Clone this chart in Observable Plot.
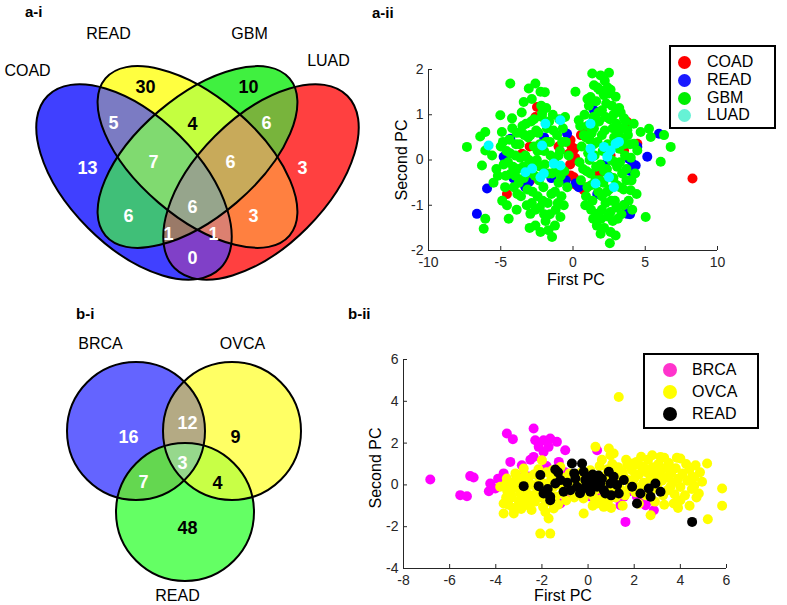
<!DOCTYPE html>
<html>
<head>
<meta charset="utf-8">
<script src="https://cdn.jsdelivr.net/npm/d3@7"></script>
<script src="https://cdn.jsdelivr.net/npm/@observablehq/plot@0.6"></script>
<style>
  html, body { margin: 0; padding: 0; background: #fff; }
  body { font-family: "Liberation Sans", Arial, Helvetica, sans-serif; }
  #fig { position: relative; width: 787px; height: 605px; overflow: hidden; background: #fff; }
  .lbl { position: absolute; white-space: nowrap; line-height: 1; color: #000; }
  .legend { position: absolute; border: 2px solid #000; background: #fff; box-sizing: border-box; }
  .legend .dot { position: absolute; border-radius: 50%; }
  .legend .txt { position: absolute; font-size: 16px; line-height: 1; transform: translateY(-50%); }
</style>
</head>
<body>
<div id="fig"></div>
<script>
// ---------------- DATA ----------------
// Panel a-i: 4-set Venn (C=COAD, R=READ, G=GBM, L=LUAD)
const vennASets = ["COAD", "READ", "GBM", "LUAD"];
const vennARegions = ["C", "R", "G", "L", "CR", "RG", "GL", "CG", "RL", "CL", "CRG", "RGL", "CRGL", "CGL", "CRL"];
const vennACounts = [13, 30, 10, 3, 5, 4, 6, 6, 3, 0, 7, 6, 6, 1, 1];

// Panel b-i: 3-set Venn (B=BRCA, O=OVCA, R=READ)
const vennBSets = ["BRCA", "OVCA", "READ"];
const vennBRegions = ["B", "O", "R", "BO", "BR", "OR", "BOR"];
const vennBCounts = [16, 9, 48, 12, 7, 4, 3];

// Panel a-ii: PCA scatter [First PC, Second PC]
const aCOAD = [[-2.49,1.17],[-3.53,0.14],[-2.95,-0.45],[-4.57,-0.75],[-0.29,0.14],[-0.06,0.07],[0.06,-0.01],[-0.17,-0.34],[0.06,-0.38],[0.75,0.58],[0.55,0.55],[0.98,-0.60],[0.75,-0.67],[3.76,0.84],[8.27,-0.41],[4.45,0.36],[3.53,0.21],[-0.17,0.44],[0.1,0.25],[-0.2,-0.1],[-2.6,0.95],[-1.0,0.3],[1.8,-0.3],[2.6,0.1],[-3.0,0.3],[0.2,-0.55],[-0.1,0.3],[0.15,0.05]];
const aREAD = [[-6.65,-1.19],[-5.95,-0.63],[-4.34,0.47],[-4.80,0.07],[-4.11,-0.41],[-3.06,-0.49],[-0.41,0.58],[0.17,-0.52],[0.40,-0.60],[1.45,1.10],[1.68,-0.75],[3.76,-1.19],[3.53,-1.00],[4.11,-0.08],[4.34,-0.12],[5.14,0.07],[5.95,0.58],[4.45,0.29],[3.87,0.03],[-0.5,-0.45],[-2.0,0.5],[-1.5,-0.4],[2.2,-0.1],[4.0,-0.25],[-3.3,-0.6],[3.95,-1.2],[0.3,-0.55]];
const aGBM = [[-7.34,0.29],[-6.42,0.52],[-6.07,0.62],[-6.07,0.21],[-6.30,-0.12],[-6.07,-1.30],[-6.18,-1.52],[-5.03,0.99],[-4.92,0.62],[-4.34,1.69],[-4.22,0.92],[-4.45,-1.30],[-4.57,-1.00],[-3.41,1.28],[-3.06,1.58],[-2.60,1.69],[-2.25,1.51],[-2.14,1.03],[-1.45,-1.70],[-2.25,-1.59],[-2.95,-1.19],[-0.87,-1.26],[-0.64,-1.00],
  [-5.6,0.1],[-5.3,-0.2],[-5.0,0.3],[-5.2,-0.35],[-4.8,-0.1],[-4.6,0.2],[-4.4,0.45],[-4.3,-0.3],[-4.1,-0.6],[-4.0,0.1],[-3.9,0.6],[-3.8,-0.2],[-3.7,0.35],[-3.6,-0.8],[-3.5,0.75],[-3.4,-0.4],[-3.3,0.1],[-3.2,-1.0],[-3.1,0.5],[-3.0,-0.2],[-2.9,0.85],[-2.8,-0.7],[-2.7,0.3],[-2.6,-1.1],[-2.5,0.0],[-2.4,0.6],[-2.35,-0.45],[-2.2,1.2],[-2.1,-0.9],[-2.0,0.2],[-1.9,-1.35],[-1.8,0.7],[-1.7,-0.3],[-1.6,0.4],[-1.5,-0.75],[-1.4,1.0],[-1.3,0.0],[-1.2,-1.1],[-1.1,0.55],[-1.0,-0.5],[-0.9,0.2],[-0.8,-0.8],[-0.7,0.7],[-0.6,-0.25],[-0.5,0.4],[-3.55,1.05],[-2.85,1.35],[-2.6,-1.45],[-3.0,-1.5],[-1.7,-1.55],[-1.95,1.5],[-4.7,-0.6],[-5.5,-0.5],[-4.9,-0.9],[-3.9,-1.1],[-2.3,0.35],[-1.15,-0.2],[-0.95,0.9],[-0.4,-0.6],[-3.35,0.55],[-2.75,-0.05],[-1.55,0.1],[-2.05,-0.6],[-3.75,-0.5],[-4.2,0.7],[-1.25,-1.45],[-0.3,0.1],[-0.55,0.95],[-2.45,-0.8],[-3.15,-0.65],[-1.85,1.15],[-4.5,-0.05],
  [-4.85,0.4],[-4.65,-0.35],[-4.35,0.15],[-4.15,-0.15],[-3.95,0.35],[-3.85,-0.75],[-3.65,0.05],[-3.45,-0.15],[-3.25,0.8],[-3.2,-0.3],[-3.05,0.0],[-2.95,0.55],[-2.85,-0.95],[-2.65,-0.35],[-2.55,0.65],[-2.45,0.2],[-2.3,-1.05],[-2.25,-0.15],[-2.15,0.95],[-1.95,-0.1],[-1.85,0.4],[-1.75,-0.95],[-1.65,0.85],[-1.45,-0.3],[-1.35,0.65],[-1.25,-0.7],[-1.05,-0.95],[-1.0,0.1],[-0.85,-0.35],[-0.75,0.4],[-3.6,0.6],[-4.0,-0.35],[-2.0,-1.2],[-1.6,-1.2],[-2.7,0.9],
  [0.17,1.51],[0.40,0.88],[1.33,1.91],[1.91,1.87],[2.49,1.93],[1.45,1.65],[1.21,1.39],[2.14,1.43],[2.49,1.47],[1.68,-1.19],[1.91,-1.63],[2.60,-1.59],[2.95,-1.67],[2.55,-1.84],[3.53,0.92],[3.76,0.66],[4.22,0.36],[4.45,0.21],[4.68,0.62],[5.26,0.69],[5.38,0.51],[6.07,-0.04],[6.30,0.55],[6.76,0.29],[5.03,-1.26],[3.99,-0.67],
  [0.6,0.3],[0.7,-0.2],[0.8,1.0],[0.9,0.5],[1.0,-0.6],[1.05,0.15],[1.1,1.2],[1.2,-0.3],[1.3,0.6],[1.35,-0.9],[1.4,0.95],[1.5,0.1],[1.55,-0.45],[1.6,1.3],[1.7,0.4],[1.75,-0.7],[1.8,0.85],[1.9,-0.1],[1.95,-1.3],[2.0,1.1],[2.05,0.2],[2.1,-0.5],[2.2,0.65],[2.25,-0.95],[2.3,1.25],[2.35,-0.2],[2.4,0.35],[2.5,-0.65],[2.55,0.9],[2.6,-1.15],[2.65,0.0],[2.7,1.2],[2.8,-0.4],[2.85,0.5],[2.9,-0.9],[3.0,0.8],[3.05,-0.15],[3.1,-1.3],[3.2,0.25],[3.25,-0.6],[3.3,1.05],[3.4,-0.3],[3.45,0.45],[3.5,-1.0],[3.6,0.1],[3.7,-0.45],[3.8,0.55],[3.85,-0.9],[4.0,0.05],[4.1,-1.1],[4.3,-0.3],[4.2,0.8],[1.0,0.75],[1.25,-1.1],[0.55,-0.45],[0.85,-1.0],[1.65,-1.45],[2.15,-1.5],[2.75,-1.35],[3.35,-1.2],[1.85,1.55],[2.4,1.6],[2.95,1.4],[0.5,0.75],[0.45,-0.05],[3.65,0.85],[4.4,-0.75],[1.45,0.35],[2.45,-0.35],[3.15,0.6],[2.0,-0.8],[1.15,0.45],
  [0.75,0.55],[0.95,-0.25],[1.15,0.0],[1.3,-0.55],[1.45,0.7],[1.6,-0.15],[1.75,1.05],[1.85,-0.45],[2.0,0.55],[2.15,-0.25],[2.25,0.95],[2.35,-0.7],[2.5,0.2],[2.65,-0.9],[2.75,0.7],[2.9,-0.05],[3.0,-0.55],[3.1,0.3],[3.25,-0.05],[3.35,0.7],[3.5,-0.65],[3.55,0.35],[3.7,-0.2],[3.95,0.35],[4.05,-0.45],[1.4,-1.3],[2.0,-1.1],[2.4,-1.25],[3.0,-1.05],[1.7,1.6],[2.2,1.75],[2.6,1.55],[1.0,1.35],[0.9,-0.8],[2.8,1.0],[3.2,1.15]];
const aLUAD = [[-5.84,0.32],[-1.91,0.80],[-0.87,0.88],[-2.14,0.32],[-3.29,-0.27],[-2.83,-0.19],[-2.25,-0.38],[-2.02,-0.30],[-1.33,-0.08],[-0.87,-0.12],[1.21,0.80],[1.21,0.25],[1.33,0.07],[2.14,0.29],[2.37,0.07],[2.60,0.21],[2.95,0.36],[3.18,0.40],[2.49,-0.38],[2.83,-0.60],[1.56,-0.52]];

// Panel b-ii: PCA scatter [First PC, Second PC]
const bBRCA = [[-6.84,0.26],[-5.54,-0.49],[-5.25,-0.54],[-5.11,0.42],[-4.96,0.35],[-4.24,0.07],[-4.02,-0.17],[-3.52,2.46],[-3.26,2.19],[-3.37,1.10],[-2.87,0.94],[-2.36,2.70],[-2.36,1.34],[-2.29,2.14],[-1.93,2.14],[-1.64,2.22],[-1.71,1.82],[-2.14,1.82],[-1.93,1.58],[-1.35,2.06],[-0.99,1.66],[-1.27,1.10],[0.39,1.66],[1.62,-1.77],[2.85,-1.21],[1.40,-0.97],[2.49,-0.97],[-1.20,-0.89],[-2.21,0.47],[-3.66,0.55],[-3.9,0.3],[-0.62,-0.09],[0.39,0.23],[0.97,-0.09],[1.55,-0.57],[2.12,-0.57],[-2.6,0.4],[-3.1,0.45],[-1.8,0.9],[-2.5,1.2],[-1.5,0.3],[-0.9,-0.6],[-0.3,-0.3],[0.6,-0.4],[1.2,-0.6],[1.8,-0.3],[2.3,-0.7],[-1.0,0.6],[-4.3,-0.3],[-3.7,0.05],[-2.0,-0.3],[-0.5,0.5],[2.7,-0.75],[0.1,-0.55]];
const bOVCA = [[1.33,4.21],[-2.07,-2.33],[-1.64,-2.33],[5.81,-0.17],[5.81,-1.00],[5.19,-1.64],[5.16,1.02],[4.66,0.94],[4.51,0.39],[4.0,1.26],[3.57,-0.09],[3.71,-0.89],[4.0,-0.73],[4.80,-0.41],[4.94,0.15],[3.14,1.34],[2.78,1.42],[2.41,0.86],[1.84,1.02],[0.97,1.42],[1.11,1.50],[0.90,1.74],[0.32,1.82],[1.55,0.39],[2.71,-1.45],[0.68,-1.05],[0.39,-0.89],[-0.19,-1.37],[-1.49,-1.13],[-1.71,-1.61],[-2.65,-0.89],[-3.66,-1.37],[-3.22,-1.37],[-3.66,-0.89],[-3.81,-0.09],[-3.52,0.31],[-2.79,0.78],[-2.00,1.18],[-1.20,0.86],
  [-3.5,-0.3],[-3.4,0.1],[-3.3,-0.6],[-3.2,-0.1],[-3.1,0.3],[-3.0,-0.8],[-2.95,-0.4],[-2.9,0.1],[-2.8,-0.6],[-2.7,-0.2],[-2.6,0.25],[-2.55,-1.0],[-2.5,-0.5],[-2.4,0.0],[-2.35,0.5],[-2.3,-0.8],[-2.2,-0.25],[-2.1,0.3],[-2.0,-0.6],[-1.95,-1.05],[-1.9,0.05],[-1.8,0.6],[-1.75,-0.35],[-1.7,-0.8],[-1.6,0.25],[-1.5,-0.1],[-1.4,-0.55],[-1.35,0.45],[-1.3,-0.95],[-1.2,0.0],[-1.1,-0.4],[-1.0,0.35],[-0.95,-0.75],[-0.9,0.05],[-0.8,0.55],[-0.75,-0.3],[-0.6,-0.6],[-0.5,0.25],[-0.4,-0.2],[-0.3,0.6],[-3.45,-0.95],[-3.15,0.55],[-2.75,0.45],[-3.55,0.05],[-2.45,-1.2],[-1.85,-1.3],[-2.15,0.75],[-1.55,0.7],
  [-3.35,-0.45],[-3.05,-0.15],[-2.85,-0.25],[-2.65,0.0],[-2.45,-0.65],[-2.25,-0.45],[-2.05,0.0],[-1.85,-0.55],[-3.55,-0.6],[-3.25,-1.1],[-2.9,-1.15],[-1.6,-0.1],[-1.25,0.35],[-0.6,0.0],[-0.2,0.1],[0.3,-0.7],[0.9,-0.7],[1.4,0.3],[1.9,0.1],[2.4,0.7],[3.0,0.6],[3.55,0.7],[4.25,1.0],[4.6,-0.05],[3.3,1.3],[2.0,0.95],
  [-0.2,-0.65],[-0.1,0.4],[0.0,-0.3],[0.1,0.7],[0.2,-0.5],[0.3,0.2],[0.4,-0.2],[0.5,0.9],[0.55,-0.7],[0.6,0.4],[0.7,0.0],[0.8,-0.45],[0.85,0.75],[0.9,0.2],[1.0,-0.3],[1.05,1.0],[1.1,0.5],[1.2,-0.6],[1.25,0.1],[1.3,0.85],[1.4,-0.2],[1.5,0.6],[1.6,-0.5],[1.65,1.2],[1.7,0.25],[1.8,-0.15],[1.9,0.7],[2.0,0.3],[2.05,-0.35],[2.1,1.1],[2.2,0.5],[2.25,-0.1],[2.3,0.9],[2.4,0.1],[2.5,-0.5],[2.55,0.6],[2.6,1.2],[2.7,0.3],[2.75,-0.25],[2.8,0.85],[2.9,0.45],[3.0,-0.1],[3.05,1.0],[3.1,0.55],[3.2,0.2],[3.25,-0.5],[3.3,0.8],[3.4,0.35],[3.45,-0.25],[3.5,1.05],[3.6,0.55],[3.65,0.1],[3.75,-0.45],[3.8,0.8],[3.9,0.3],[4.0,-0.1],[4.1,0.55],[4.2,-0.5],[4.3,0.2],[4.4,0.75],[4.5,-0.2],[4.6,0.35],[4.7,-0.6],[4.85,0.6],[4.4,-1.0],[3.9,-1.1],[3.3,-0.95],[2.9,-0.8],[2.2,-0.9],[1.5,-1.0],[1.0,-1.1],[0.2,-1.0],[2.3,1.35],[1.7,0.95],[0.6,1.2],[3.85,1.3]];
const bREAD = [[-2.79,-0.06],[-2.14,-0.06],[-2.07,0.47],[-1.93,-0.41],[-1.64,-0.57],[-1.64,-0.73],[-1.42,0.74],[-1.42,0.07],[-1.20,0.23],[-1.06,-0.33],[-0.77,-0.25],[-0.70,1.02],[-0.55,0.31],[-0.48,-0.09],[-0.26,1.02],[-0.19,0.63],[-0.12,0.23],[-0.05,0.39],[0.03,-0.09],[0.10,-0.33],[0.25,0.23],[0.39,-0.09],[0.53,0.07],[0.68,-0.25],[0.75,-0.41],[0.90,0.63],[0.97,0.07],[1.11,0.39],[1.26,-0.01],[1.33,-0.41],[1.55,0.23],[1.91,-0.09],[2.12,-0.89],[2.27,-0.41],[2.63,-0.17],[2.71,-0.57],[2.92,0.07],[3.14,-0.33],[4.51,-1.77],[-1.3,0.6],[-0.9,0.1],[-0.35,-0.4],[0.0,0.15],[0.2,0.5],[0.6,0.3],[-0.6,0.55],[1.0,-0.5],[-1.75,-0.2],[-0.15,-0.15],[0.45,0.45]];

// Tick labels
const aXTicks = [-10, -5, 0, 5, 10];
const aYTicks = [-2, -1, 0, 1, 2];
const bXTicks = [-8, -6, -4, -2, 0, 2, 4, 6];
const bYTicks = [-4, -2, 0, 2, 4, 6];

// ---------------- LAYOUT & STYLE ----------------
const FONT = '"Liberation Sans", Arial, Helvetica, sans-serif';
// ellipse geometry (page pixel coordinates) for a-i
const vennAShapes = [
  {id: "C", cx: 134, cy: 182, a: 122, b: 65, angle: 45},
  {id: "R", cx: 197.5, cy: 157, a: 121, b: 60, angle: 40.5},
  {id: "G", cx: 197.5, cy: 157, a: 121, b: 60, angle: -40.5},
  {id: "L", cx: 261, cy: 182, a: 122, b: 65, angle: -45}
];
const vennAColors = ["#4040ff", "#ffff40", "#40f040", "#ff4040", "#7b7bc3", "#c4ff40", "#78b43c", "#40bf78", "#ff8040", "#8040c8", "#80da70", "#c8aa5a", "#96a58c", "#9a7a68", "#dc8070"];
const vennALabelPos = [[87,168],[145,87],[248,87],[302,168],[113,123],[192,124],[266,123],[128,216],[253,216],[192,258],[153,162],[230,162],[192,207],[168,234],[213,234]];
const vennALabelInk = ["#fff","#000","#000","#fff","#fff","#000","#fff","#fff","#fff","#fff","#fff","#fff","#fff","#fff","#fff"];
const vennASetPos = [[27,70],[108,33],[249,33],[328,60]];

const vennBShapes = [
  {id: "B", cx: 136, cy: 431, a: 69, b: 69, angle: 0},
  {id: "O", cx: 232, cy: 431, a: 69, b: 69, angle: 0},
  {id: "R", cx: 185, cy: 512, a: 69, b: 69, angle: 0}
];
const vennBColors = ["#6464ff", "#ffff64", "#64ff64", "#b4aa84", "#64d750", "#c8ff46", "#96d88c"];
const vennBLabelPos = [[128,437],[235,437],[187,528],[187,423],[143,482],[217,483],[182,463]];
const vennBLabelInk = ["#fff","#000","#000","#fff","#fff","#000","#fff"];
const vennBSetPos = [[100,343],[242,343],[177,595]];

const fig = document.getElementById("fig");

function addNode(node, left, top) {
  const d = document.createElement("div");
  d.style.cssText = `position:absolute;left:${left}px;top:${top}px;width:${node.getAttribute("width")}px;height:${node.getAttribute("height")}px;`;
  d.appendChild(node);
  fig.appendChild(d);
}
function addLabel(text, x, y, {size = 16, weight = "normal", anchor = "middle", rotate = 0} = {}) {
  const d = document.createElement("div");
  d.className = "lbl";
  d.textContent = text;
  const tx = anchor === "middle" ? "-50%" : anchor === "end" ? "-100%" : "0";
  d.style.cssText += `left:${x}px;top:${y}px;font-size:${size}px;font-weight:${weight};transform:translate(${tx},-50%);`;
  if (rotate) d.style.transform = `translate(-50%,-50%) rotate(${rotate}deg)`;
  fig.appendChild(d);
}
function addLegend(box, items, rows) {
  const d = document.createElement("div");
  d.className = "legend";
  d.style.cssText += `left:${box.left}px;top:${box.top}px;width:${box.width}px;height:${box.height}px;`;
  items.forEach((it, i) => {
    const dot = document.createElement("div");
    dot.className = "dot";
    const r = box.r;
    dot.style.cssText += `left:${box.dotX - box.left - r}px;top:${rows[i] - box.top - r}px;width:${2*r}px;height:${2*r}px;background:${it.color};`;
    d.appendChild(dot);
    const t = document.createElement("div");
    t.className = "txt";
    t.textContent = it.name;
    t.style.left = (box.textX - box.left) + "px";
    t.style.top = (rows[i] - box.top) + "px";
    d.appendChild(t);
  });
  fig.appendChild(d);
}

// Venn render mark (uses the plot's x/y scales)
function vennMark(prefix, shapes, regionKeys, colors) {
  return (index, scales) => {
    const {x, y} = scales;
    const g = d3.create("svg:g");
    const defs = g.append("defs");
    const geom = shapes.map(s => {
      const cx = x(s.cx), cy = y(s.cy);
      return {id: s.id, cx, cy, rx: Math.abs(x(s.cx + s.a) - cx), ry: Math.abs(y(s.cy + s.b) - cy), rot: s.angle};
    });
    const put = (sel, e) => sel.append("ellipse")
      .attr("cx", e.cx).attr("cy", e.cy).attr("rx", e.rx).attr("ry", e.ry)
      .attr("transform", `rotate(${e.rot} ${e.cx} ${e.cy})`);
    geom.forEach(e => put(defs.append("clipPath").attr("id", prefix + e.id), e));
    const order = regionKeys.map((k, i) => i).sort((a, b) => regionKeys[a].length - regionKeys[b].length);
    for (const i of order) {
      const keys = regionKeys[i].split("");
      let sel = g;
      for (const k of keys.slice(1)) sel = sel.append("g").attr("clip-path", `url(#${prefix}${k})`);
      put(sel, geom.find(d => d.id === keys[0])).attr("fill", colors[i]);
    }
    geom.forEach(e => put(g, e).attr("fill", "none").attr("stroke", "#000").attr("stroke-width", 2));
    return g.node();
  };
}

function vennPlot(prefix, top, height, shapes, regionKeys, colors, counts, labelPos, ink, sets, setPos) {
  const nums = counts.map((n, i) => ({n, x: labelPos[i][0], y: labelPos[i][1], ink: ink[i]}));
  const names = sets.map((s, i) => ({s, x: setPos[i][0], y: setPos[i][1]}));
  return Plot.plot({
    width: 370, height, margin: 0,
    style: {fontFamily: FONT, background: "transparent", overflow: "visible"},
    x: {domain: [0, 370], axis: null},
    y: {domain: [top, top + height], reverse: true, axis: null},
    marks: [
      vennMark(prefix, shapes, regionKeys, colors),
      Plot.text(nums, {x: "x", y: "y", text: d => String(d.n), fill: d => d.ink, fontSize: 18, fontWeight: "bold"}),
      Plot.text(names, {x: "x", y: "y", text: "s", fill: "#000", fontSize: 16})
    ]
  });
}

function scatterPlot(opts) {
  const {width, height, ml, mr, mt, mb, xd, yd, xt, yt, series} = opts;
  const fw = width - ml - mr, fh = height - mt - mb;
  return Plot.plot({
    width, height, marginLeft: ml, marginRight: mr, marginTop: mt, marginBottom: mb,
    style: {fontFamily: FONT, fontSize: "14px", color: "#262626", background: "transparent", overflow: "visible"},
    x: {domain: xd, ticks: xt, tickSize: 0, tickPadding: 7, tickFormat: d => `${d}`, label: null},
    y: {domain: yd, ticks: yt, tickSize: 0, tickPadding: 5, tickFormat: d => `${d}`, label: null},
    marks: [
      ...series.map(s => Plot.dot(s.data, {x: d => d[0], y: d => d[1], r: 5, fill: s.color, stroke: null})),
      Plot.ruleX([xd[0]], {stroke: "#262626", strokeWidth: 1}),
      Plot.ruleY([yd[0]], {stroke: "#262626", strokeWidth: 1}),
      Plot.ruleX(xt, {stroke: "#262626", insetTop: fh - 4}),
      Plot.ruleY(yt, {stroke: "#262626", insetRight: fw - 4})
    ]
  });
}

// ---- a-i ----
addNode(vennPlot("va", 0, 290, vennAShapes, vennARegions, vennAColors, vennACounts, vennALabelPos, vennALabelInk, vennASets, vennASetPos), 0, 0);
// ---- b-i ----
addNode(vennPlot("vb", 300, 305, vennBShapes, vennBRegions, vennBColors, vennBCounts, vennBLabelPos, vennBLabelInk, vennBSets, vennBSetPos), 0, 300);

// ---- a-ii ----
addNode(scatterPlot({width: 417, height: 265, ml: 58, mr: 70, mt: 29, mb: 55, xd: [-10, 10], yd: [-2, 2], xt: aXTicks, yt: aYTicks,
  series: [{data: aCOAD, color: "#ff0000"}, {data: aREAD, color: "#0000ff"}, {data: aGBM, color: "#00ff00"}, {data: aLUAD, color: "#00ffff"}]}), 370, 40);
// ---- b-ii ----
addNode(scatterPlot({width: 417, height: 265, ml: 33, mr: 61, mt: 19, mb: 37, xd: [-8, 6], yd: [-4, 6], xt: bXTicks, yt: bYTicks,
  series: [{data: bBRCA, color: "#ff00ff"}, {data: bOVCA, color: "#ffff00"}, {data: bREAD, color: "#000000"}]}), 370, 340);

// axis titles
addLabel("First PC", 576, 280, {size: 16});
addLabel("Second PC", 402, 160, {size: 16, rotate: -90});
addLabel("First PC", 563, 596, {size: 16});
addLabel("Second PC", 376, 468, {size: 16, rotate: -90});

// panel tags
addLabel("a-i", 25, 11, {size: 15, weight: "bold", anchor: "start"});
addLabel("a-ii", 372, 12, {size: 15, weight: "bold", anchor: "start"});
addLabel("b-i", 76, 313, {size: 15, weight: "bold", anchor: "start"});
addLabel("b-ii", 348, 313, {size: 15, weight: "bold", anchor: "start"});

// legends
addLegend({left: 669, top: 45, width: 107, height: 84, dotX: 682, textX: 705, r: 6.5},
  [{name: "COAD", color: "#ff0000"}, {name: "READ", color: "#1a1aff"}, {name: "GBM", color: "#00ee00"}, {name: "LUAD", color: "#66f2d5"}],
  [60, 78, 96, 113]);
addLegend({left: 643, top: 353, width: 116, height: 76, dotX: 668, textX: 690, r: 7},
  [{name: "BRCA", color: "#ff33cc"}, {name: "OVCA", color: "#ffff00"}, {name: "READ", color: "#000000"}],
  [368, 390, 412]);
</script>
</body>
</html>
